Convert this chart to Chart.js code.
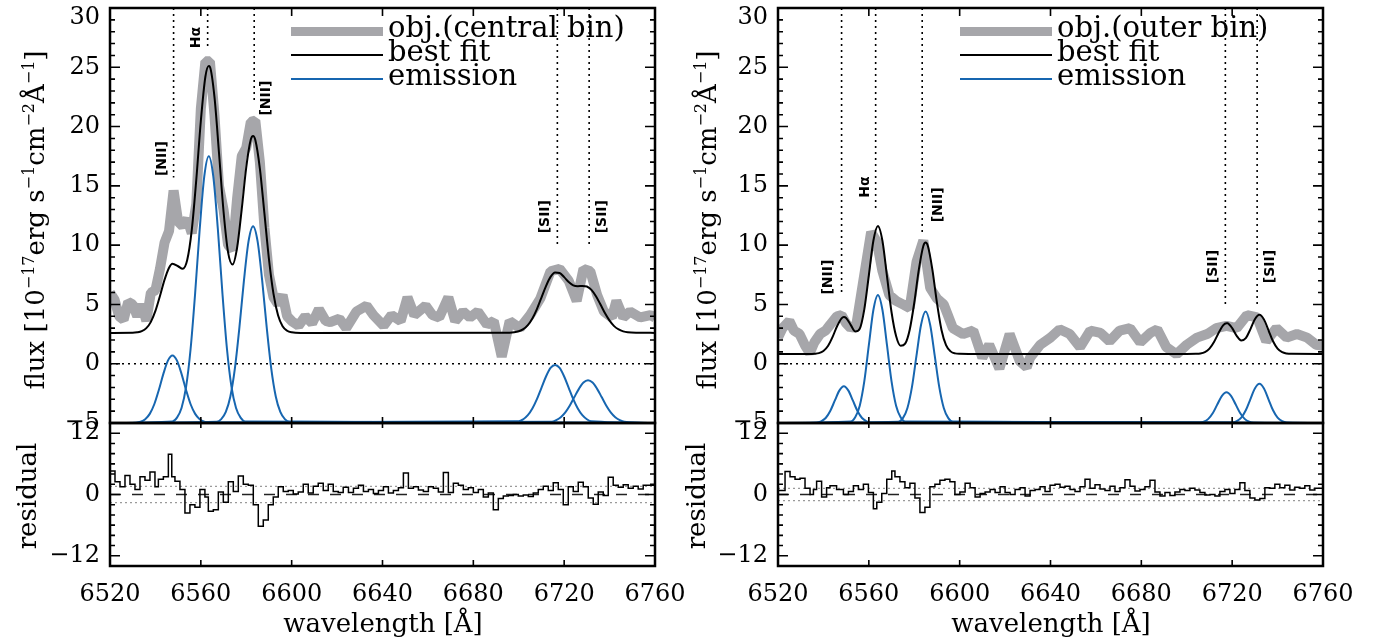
<!DOCTYPE html>
<html>
<head>
<meta charset="utf-8">
<title>Emission line fits</title>
<script src="https://cdn.jsdelivr.net/npm/chart.js@4.4.1/dist/chart.umd.min.js"></script>
<style>
  html, body { margin: 0; padding: 0; background: #fff; }
  body { width: 1382px; height: 644px; position: relative; overflow: hidden; font-family: "DejaVu Serif", serif; color: #000; }
  canvas { position: absolute; }
  .ytitle { position: absolute; white-space: nowrap; font-size: 26px; line-height: 26px; transform: translate(-50%, -50%) rotate(-90deg); }
  .ytitle sup { font-size: 16px; line-height: 0; vertical-align: 0.6em; }
  .xtitle { position: absolute; white-space: nowrap; font-size: 26px; line-height: 26px; transform: translateX(-50%); }
  .key { position: absolute; white-space: nowrap; font-size: 29px; line-height: 29px; }
  .swatch { position: absolute; }
</style>
</head>
<body>
<canvas id="specL" width="690" height="440" style="left:0;top:0"></canvas>
<canvas id="resL" width="690" height="234" style="left:0;top:410px"></canvas>
<canvas id="specR" width="690" height="440" style="left:668px;top:0"></canvas>
<canvas id="resR" width="690" height="234" style="left:668px;top:410px"></canvas>

<div class="ytitle" style="left:35px;top:220px">flux [10<sup>&minus;17</sup>erg s<sup>&minus;1</sup>cm<sup>&minus;2</sup>&Aring;<sup>&minus;1</sup>]</div>
<div class="ytitle" style="left:27px;top:496px">residual</div>
<div class="ytitle" style="left:707px;top:220px">flux [10<sup>&minus;17</sup>erg s<sup>&minus;1</sup>cm<sup>&minus;2</sup>&Aring;<sup>&minus;1</sup>]</div>
<div class="ytitle" style="left:696px;top:496px">residual</div>
<div class="xtitle" style="left:383px;top:610px">wavelength [&Aring;]</div>
<div class="xtitle" style="left:1051px;top:610px">wavelength [&Aring;]</div>

<div id="keyL"></div>
<div id="keyR"></div>

<script>
// ---- axes ----
const waveMin = 6520, waveMax = 6760;
const waveTicks = [6520, 6560, 6600, 6640, 6680, 6720, 6760];
const fluxMin = -5, fluxMax = 30;
const fluxTicks = [-5, 0, 5, 10, 15, 20, 25, 30];
const residMin = -14, residMax = 14;
const residTicks = [-12, 0, 12];

// ---- emission lines marked on both panels ----
const lineNames = ['[NII]', 'H\u03b1', '[NII]', '[SII]', '[SII]'];
const lineWaves = [6548, 6563, 6583.5, 6717, 6731];

// ---- central bin ----
const obsWaveL = [6520, 6522, 6524, 6526, 6528, 6530, 6532, 6534, 6536, 6538, 6540, 6542, 6544, 6546, 6548, 6550, 6552, 6554, 6556, 6558,
  6560, 6562, 6564, 6566, 6568, 6570, 6572, 6574, 6576, 6578, 6580, 6582, 6584, 6586, 6588, 6590, 6592, 6594, 6596, 6598,
  6600, 6603, 6606, 6609, 6612, 6615, 6617, 6621, 6624, 6628.5, 6633, 6636, 6640.5, 6644, 6648, 6651, 6654, 6659, 6662, 6665,
  6669, 6672, 6675.5, 6678.5, 6682, 6686, 6689, 6692.5, 6696, 6700.5, 6705, 6709.5, 6714, 6718, 6722, 6725.5, 6728.5, 6731.5, 6734.5, 6737.5,
  6741, 6743, 6746, 6749, 6753.5, 6758, 6760];
const obsFluxL = [6.0, 5.4, 4.0, 3.7, 5.2, 5.0, 4.0, 5.0, 3.6, 6.0, 6.2, 8.0, 10.2, 11.2, 14.6, 12.0, 11.6, 12.2, 11.0, 13.5,
  21.5, 25.5, 25.5, 21.0, 15.0, 13.0, 10.0, 9.6, 14.0, 17.5, 18.2, 20.4, 20.5, 17.0, 11.5, 7.5, 5.6, 5.0, 5.8, 4.0,
  3.6, 3.2, 4.0, 3.4, 4.6, 3.6, 3.5, 3.8, 3.0, 4.4, 4.9, 4.1, 3.2, 4.1, 3.6, 5.6, 4.1, 4.9, 4.1, 3.9,
  5.6, 3.6, 4.4, 3.9, 4.4, 3.3, 3.6, 0.6, 3.6, 3.0, 4.1, 5.5, 7.8, 8.0, 7.0, 5.3, 8.0, 7.8, 5.8, 4.4,
  3.9, 5.3, 3.9, 4.4, 3.9, 4.1, 3.9];

const fitWaveL = [6520, 6530, 6532, 6534, 6536, 6538, 6540, 6542, 6544, 6546, 6547.5, 6550, 6552, 6554, 6556, 6558, 6560, 6562, 6563.5, 6564,
  6566, 6568, 6570, 6572, 6574, 6576, 6578, 6580, 6582, 6583, 6584, 6586, 6588, 6590, 6592, 6594, 6596, 6598, 6600, 6604,
  6696, 6698, 6700, 6702, 6704, 6706, 6708, 6710, 6712, 6714, 6716, 6718, 6720, 6722, 6724, 6726, 6728, 6730, 6732, 6734,
  6736, 6738, 6740, 6742, 6744, 6746, 6748, 6752, 6760];
const fitFluxL = [2.6, 2.61, 2.65, 2.75, 3.0, 3.53, 4.45, 5.71, 7.07, 8.1, 8.44, 8.22, 8.0, 8.74, 11.26, 15.52, 20.47, 24.2, 25.1, 25.03,
  22.5, 17.78, 12.84, 9.39, 8.37, 9.82, 13.02, 16.56, 18.9, 19.2, 18.87, 16.46, 12.68, 8.83, 5.89, 4.08, 3.16, 2.78, 2.65, 2.6,
  2.62, 2.65, 2.74, 2.92, 3.26, 3.82, 4.61, 5.58, 6.55, 7.32, 7.69, 7.65, 7.3, 6.89, 6.61, 6.54, 6.56, 6.51, 6.23, 5.69,
  4.99, 4.25, 3.63, 3.17, 2.89, 2.73, 2.65, 2.61, 2.6];

// single-line components, sitting on the -5 level, sampled around each centre
const emBase = -5;
const emOffsetL = [-16, -14, -12, -10, -8, -6, -4, -2, 0, 2, 4, 6, 8, 10, 12, 14, 16];
const emCentreL = [6547.5, 6563.5, 6583, 6716, 6730.5];
const emFluxL = [
  [-4.97, -4.89, -4.68, -4.23, -3.42, -2.22, -0.86, 0.26, 0.7, 0.26, -0.86, -2.22, -3.42, -4.23, -4.68, -4.89, -4.97],
  [-4.87, -4.55, -3.74, -1.96, 1.26, 5.96, 11.34, 15.77, 17.5, 15.77, 11.34, 5.96, 1.26, -1.96, -3.74, -4.55, -4.87],
  [-4.9, -4.67, -4.07, -2.76, -0.39, 3.08, 7.05, 10.32, 11.6, 10.32, 7.05, 3.08, -0.39, -2.76, -4.07, -4.67, -4.9],
  [-4.86, -4.68, -4.34, -3.78, -2.99, -2.03, -1.08, -0.36, -0.1, -0.36, -1.08, -2.03, -2.99, -3.78, -4.34, -4.68, -4.86],
  [-4.9, -4.76, -4.51, -4.1, -3.52, -2.81, -2.12, -1.59, -1.4, -1.59, -2.12, -2.81, -3.52, -4.1, -4.51, -4.76, -4.9]
];

const resWaveL = [6520, 6522.2, 6524.4, 6526.6, 6528.8, 6531, 6533.2, 6535.4, 6537.6, 6539.8, 6541.3, 6543.5, 6545.7, 6547.2, 6548.6, 6550.8,
  6553, 6555.2, 6557.4, 6559.6, 6561.8, 6563.3, 6565.5, 6567.7, 6569.9, 6572.1, 6574.3, 6576.5, 6578.7, 6580.9, 6583.1, 6585.3,
  6587.5, 6589.7, 6591.9, 6594.1, 6596.3, 6598.5, 6600.7, 6602.9, 6605.1, 6607.3, 6609.5, 6611.7, 6613.9, 6616.1, 6618.3, 6620.5,
  6622.7, 6625, 6627.2, 6629.4, 6631.6, 6633.8, 6636, 6638.2, 6640.4, 6642.6, 6644.8, 6647, 6649.2, 6651.4, 6653.6, 6655.8,
  6658, 6660.2, 6662.4, 6664.6, 6666.8, 6669, 6671.2, 6673.4, 6675.6, 6677.8, 6680, 6682.2, 6684.4, 6686.6, 6688.8, 6691,
  6693.2, 6695.4, 6697.6, 6699.8, 6702, 6704.2, 6706.4, 6708.6, 6710.8, 6713, 6715.2, 6717.4, 6719.6, 6721.8, 6724, 6726.2,
  6728.4, 6730.6, 6732.8, 6735, 6737.2, 6739.4, 6741.6, 6743.8, 6746, 6748.2, 6750.4, 6752.6, 6754.8, 6757, 6760];
const resValL = [4.3, 4.6, 2.5, 1.5, 3.7, 2.0, 1.0, 3.5, 2.8, 4.4, 1.5, 3.0, 3.5, 7.9, 3.5, 2.6,
  1.0, -3.6, -2.0, -2.5, 1.0, -0.5, -3.3, -3.0, 0.5, -1.5, 2.5, 0.6, 3.6, 2.0, 1.8, -2.0,
  -6.2, -5.0, -2.0, -0.5, 1.5, 0.6, 0.8, 0.1, 0.5, 2.0, 0.3, 1.6, 2.2, 0.8, 2.0, 0.6,
  0.4, 1.4, 0.4, 1.2, 1.8, 0.6, 1.0, 0.2, 0.8, 1.5, 0.3, 0.8, 1.3, 4.2, 1.2, 1.5,
  0.9, 0.6, 1.5, 1.2, 0.5, 4.3, 0.4, 2.2, 1.8, 1.0, 1.3, 0.4, 1.0, -0.5, 0.3, -3.0,
  -0.8, -0.3, -0.2, 0.0, -0.3, -0.1, -0.4, 0.3, 1.0, 1.6, 0.8, 2.3, 1.0, -2.0, 1.5, 0.6,
  2.4, 1.5, -0.7, -1.9, 0.5, -0.2, 3.4, 1.8, 1.4, 1.9, 1.2, 1.6, 1.1, 1.8, 1.8];
const rmsL = 1.6;

// ---- outer bin ----
const obsWaveR = [6520, 6522, 6525, 6527, 6529.5, 6532, 6534, 6536, 6538.5, 6541, 6543, 6546, 6548, 6550, 6552, 6554.5, 6557.5, 6561, 6563.5, 6566,
  6569, 6572, 6575, 6578, 6581, 6584, 6587, 6590, 6593, 6597, 6601.5, 6606, 6610, 6613, 6617.5, 6622, 6626.5, 6629.5, 6631, 6635.5,
  6640, 6644, 6648.5, 6653, 6657.5, 6662, 6666, 6670.5, 6675, 6679.5, 6684, 6687, 6691, 6695.5, 6700, 6704.5, 6709, 6713, 6717.5, 6722,
  6726.5, 6731, 6735, 6739.5, 6744, 6748.5, 6753, 6757, 6760];
const obsFluxR = [2.2, 3.0, 3.6, 2.8, 2.5, 1.5, 0.9, 1.8, 2.5, 2.8, 3.3, 4.0, 4.1, 3.4, 3.0, 3.3, 6.9, 11.1, 10.3, 7.8,
  5.8, 5.3, 5.0, 4.7, 8.6, 10.4, 6.4, 5.5, 5.0, 3.0, 2.5, 2.8, 0.5, 1.6, -0.4, 2.5, 0.2, -0.3, 0.5, 1.6,
  2.2, 2.9, 2.5, 1.4, 2.8, 2.6, 1.9, 2.8, 3.0, 1.8, 2.6, 2.9, 1.4, 0.8, 1.6, 2.2, 2.5, 3.0, 3.2, 3.0,
  4.1, 3.9, 1.9, 3.0, 2.2, 2.5, 2.2, 1.6, 1.5];

const fitWaveR = [6520, 6530, 6534, 6536, 6538, 6540, 6542, 6544, 6546, 6548, 6549, 6550, 6552, 6554, 6556, 6558, 6560, 6562, 6564, 6566,
  6568, 6570, 6572, 6574, 6576, 6578, 6580, 6582, 6584, 6585, 6586, 6588, 6590, 6592, 6594, 6596, 6598, 6600, 6604, 6700,
  6704, 6706, 6708, 6710, 6712, 6714, 6716, 6717.5, 6718, 6720, 6722, 6724, 6726, 6728, 6730, 6732, 6734, 6736, 6738, 6740,
  6742, 6744, 6746, 6760];
const fitFluxR = [0.82, 0.82, 0.82, 0.84, 0.89, 1.07, 1.49, 2.24, 3.16, 3.83, 3.93, 3.85, 3.28, 2.72, 2.95, 4.58, 7.44, 10.37, 11.62, 10.35,
  7.37, 4.34, 2.33, 1.51, 1.69, 2.87, 5.13, 7.92, 9.93, 10.22, 9.93, 7.92, 5.13, 2.85, 1.57, 1.04, 0.87, 0.83, 0.82, 0.82,
  0.83, 0.86, 0.98, 1.27, 1.83, 2.59, 3.24, 3.42, 3.41, 3.0, 2.35, 1.96, 2.16, 2.9, 3.75, 4.12, 3.73, 2.82, 1.89, 1.27,
  0.97, 0.86, 0.83, 0.82];

const emOffsetR = [-12, -10, -8, -6, -4, -2, 0, 2, 4, 6, 8, 10, 12];
const emCentreR = [6549, 6564, 6585, 6717.5, 6732];
const emFluxR = [
  [-4.97, -4.86, -4.58, -3.99, -3.12, -2.27, -1.9, -2.27, -3.12, -3.99, -4.58, -4.86, -4.97],
  [-4.88, -4.52, -3.54, -1.49, 1.56, 4.53, 5.8, 4.53, 1.56, -1.49, -3.54, -4.52, -4.88],
  [-4.9, -4.59, -3.73, -1.95, 0.71, 3.29, 4.4, 3.29, 0.71, -1.95, -3.73, -4.59, -4.9],
  [-4.97, -4.89, -4.65, -4.16, -3.42, -2.71, -2.4, -2.71, -3.42, -4.16, -4.65, -4.89, -4.97],
  [-4.96, -4.85, -4.55, -3.93, -3.0, -2.09, -1.7, -2.09, -3.0, -3.93, -4.55, -4.85, -4.96]
];

const resWaveR = [6520, 6523.1, 6525.3, 6527.5, 6529.7, 6531.9, 6534.1, 6535.6, 6537, 6539.2, 6541.4, 6542.9, 6545.8, 6548.8, 6551, 6553.2,
  6555.4, 6557.6, 6559.8, 6562, 6563.5, 6565.7, 6567.9, 6570.1, 6571.5, 6573.7, 6575.9, 6578.1, 6580.3, 6582.5, 6584.7, 6586.9,
  6589.1, 6591.3, 6593.5, 6595.7, 6597.9, 6600.1, 6602.4, 6604.6, 6606.8, 6609, 6611.2, 6613.4, 6615.6, 6617.8, 6620, 6622.2,
  6624.4, 6626.6, 6628.8, 6631, 6633.2, 6635.4, 6637.6, 6639.8, 6642, 6644.2, 6646.4, 6648.6, 6650.8, 6653, 6655.2, 6657.4,
  6659.6, 6661.8, 6664, 6666.2, 6668.4, 6670.6, 6672.8, 6675, 6677.2, 6679.4, 6681.6, 6683.8, 6686, 6688.2, 6690.4, 6692.6,
  6694.8, 6697, 6699.2, 6701.4, 6703.6, 6705.8, 6708, 6710.2, 6712.4, 6714.6, 6716.8, 6719, 6721.2, 6723.4, 6725.6, 6727.8,
  6730, 6732.2, 6734.4, 6736.6, 6738.8, 6741, 6743.2, 6745.4, 6747.6, 6749.8, 6752, 6754.2, 6756.4, 6758.6, 6760];
const resValR = [2.0, 0.8, 4.5, 3.5, 3.0, 3.2, 1.2, 0.0, 1.0, 2.6, -0.5, 1.3, 1.7, 1.0, 0.0, 0.6,
  1.7, 1.0, 2.0, 0.4, -2.8, -1.5, 0.2, 3.0, 4.6, 3.5, 2.5, 1.3, 2.2, -0.7, -3.5, -2.5,
  1.5, 2.0, 2.8, 3.0, 2.5, 0.0, 0.5, 2.2, 1.3, -0.5, 0.2, 0.5, 1.0, 0.4, 1.5, 0.4,
  0.0, 1.0, 1.3, -0.3, 0.8, 1.0, 1.5, 0.6, 1.8, 2.0, 1.4, 1.6, 1.0, 0.6, 1.5, 3.0,
  1.2, 1.9, 1.1, 0.8, 1.6, 0.6, 1.3, 2.9, 1.6, 0.7, 1.0, 1.5, 2.8, 0.5, -0.3, 0.4,
  -0.2, 0.5, 1.0, 0.8, 1.2, 0.9, 0.4, -0.1, 0.0, -0.3, 0.6, 1.0, 0.2, 1.0, 2.3, 0.8,
  -0.7, -1.1, -0.8, 1.3, 1.2, 2.0, 1.3, 1.8, 0.9, 1.4, 1.2, 1.7, 0.9, 1.2, 1.2];
const rmsR = 1.2;

// where the dotted markers stop, and where their names are written (wavelength, flux)
const markEndL = [15.7, 26.7, 21.9, 9.8, 9.8];
const tagWaveL = [6542.9, 6557.9, 6588.7, 6711.5, 6736.6];
const tagFluxL = [17.3, 27.5, 22.4, 12.4, 12.4];
const markEndR = [5.9, 12.9, 10.8, 4.8, 4.8];
const tagWaveR = [6542.0, 6558.3, 6590.5, 6711.5, 6736.6];
const tagFluxR = [7.3, 14.9, 13.4, 8.2, 8.2];

const GRAY = '#a6a6aa';
const BLUE = '#1766b0';

Chart.defaults.font.family = '"DejaVu Serif", serif';
Chart.defaults.font.size = 24;
Chart.defaults.color = '#000';

const pts = (xs, ys) => xs.map((x, i) => ({ x, y: ys[i] }));
const minusSign = v => String(v).replace('-', '\u2212');

// IDL-style box: frame plus inward ticks on all four sides
function frameTicks(cfg) {
  return {
    id: 'frameTicks',
    beforeDraw(chart) {
      // the topmost y label sits a little inside the box
      if (!cfg.topLabelDrop) return;
      const items = chart.scales.y.getLabelItems();
      const top = items[items.length - 1];
      if (top && !top.dropped) {
        top.options.translation[1] += cfg.topLabelDrop;
        top.dropped = true;
      }
    },
    afterDatasetsDraw(chart) {
      const { ctx, chartArea: a } = chart;
      const xs = chart.scales.x, ys = chart.scales.y;
      ctx.save();
      ctx.strokeStyle = '#000';
      ctx.lineWidth = 1.6;
      ctx.beginPath();
      for (let v = cfg.min; v <= cfg.max + 1e-9; v += cfg.minorStep) {
        const py = ys.getPixelForValue(v);
        const len = cfg.major.includes(v) ? 10 : 5;
        ctx.moveTo(a.left, py); ctx.lineTo(a.left + len, py);
        ctx.moveTo(a.right, py); ctx.lineTo(a.right - len, py);
      }
      waveTicks.slice(1, -1).forEach(w => {
        const px = xs.getPixelForValue(w);
        ctx.moveTo(px, a.top); ctx.lineTo(px, a.top + cfg.topLen);
        ctx.moveTo(px, a.bottom); ctx.lineTo(px, a.bottom - cfg.bottomLen);
      });
      ctx.stroke();
      ctx.lineWidth = 2.5;
      ctx.strokeRect(a.left, a.top, a.right - a.left, a.bottom - a.top);
      ctx.restore();
    }
  };
}

// rotated names next to the dotted line markers
function lineTags(waves, fluxes) {
  return {
    id: 'lineTags',
    afterDatasetsDraw(chart) {
      const { ctx } = chart;
      const xs = chart.scales.x, ys = chart.scales.y;
      ctx.save();
      ctx.font = 'bold 14px "DejaVu Sans"';
      ctx.fillStyle = '#000';
      ctx.textAlign = 'center';
      ctx.textBaseline = 'middle';
      lineNames.forEach((name, i) => {
        ctx.save();
        ctx.translate(xs.getPixelForValue(waves[i]), ys.getPixelForValue(fluxes[i]));
        ctx.rotate(-Math.PI / 2);
        ctx.fillText(name, 0, 0);
        ctx.restore();
      });
      ctx.restore();
    }
  };
}

function spectrumSets(obsW, obsF, fitW, fitF, emOffset, emCentre, emFlux, markEnd) {
  const sets = [];
  sets.push({ data: pts(obsW, obsF), borderColor: GRAY, borderWidth: 10, borderJoinStyle: 'bevel', order: 10 });
  sets.push({ data: [{ x: waveMin, y: 0 }, { x: waveMax, y: 0 }], borderColor: '#000', borderWidth: 1.6, borderDash: [2, 4], order: 8 });
  lineWaves.forEach((w, i) => {
    sets.push({ data: [{ x: w, y: fluxMax }, { x: w, y: markEnd[i] }], borderColor: '#000', borderWidth: 1.6, borderDash: [2, 4], order: 8 });
  });
  sets.push({ data: pts(fitW, fitF), borderColor: '#000', borderWidth: 2, cubicInterpolationMode: 'monotone', order: 4 });
  emCentre.forEach((c, i) => {
    const d = [{ x: waveMin, y: emBase }]
      .concat(emOffset.map((o, k) => ({ x: c + o, y: emFlux[i][k] })))
      .concat([{ x: waveMax, y: emBase }]);
    sets.push({ data: d, borderColor: BLUE, borderWidth: 2, cubicInterpolationMode: 'monotone', order: 2 });
  });
  return sets;
}

function residualSets(rw, rv, rms) {
  const flat = y => [{ x: waveMin, y }, { x: waveMax, y }];
  return [
    { data: flat(rms), borderColor: '#9a9a9a', borderWidth: 1.2, borderDash: [2, 3], order: 6 },
    { data: flat(-rms), borderColor: '#9a9a9a', borderWidth: 1.2, borderDash: [2, 3], order: 6 },
    { data: flat(0), borderColor: '#222', borderWidth: 1.5, borderDash: [11, 11], order: 5 },
    { data: pts(rw, rv), borderColor: '#000', borderWidth: 1.5, stepped: 'after', order: 2 }
  ];
}

function baseOptions(padding) {
  return {
    responsive: false,
    animation: false,
    events: [],
    layout: { padding },
    elements: { point: { radius: 0 }, line: { tension: 0 } },
    plugins: { legend: { display: false }, tooltip: { enabled: false } }
  };
}

function spectrumChart(id, sets, tagW, tagF) {
  const options = baseOptions({ left: 0, right: 35, top: 8, bottom: 17 });
  options.scales = {
    x: { type: 'linear', min: waveMin, max: waveMax, display: false },
    y: {
      min: fluxMin, max: fluxMax,
      grid: { display: false, drawTicks: false },
      border: { display: false },
      ticks: { padding: 10, callback: minusSign },
      afterBuildTicks: s => { s.ticks = fluxTicks.map(v => ({ value: v })); },
      afterFit: s => { s.width = 110; s.paddingTop = 0; s.paddingBottom = 0; }
    }
  };
  return new Chart(document.getElementById(id), {
    type: 'line',
    data: { datasets: sets },
    options,
    plugins: [
      frameTicks({ min: fluxMin, max: fluxMax, minorStep: 1, major: fluxTicks, topLen: 8, bottomLen: 6, topLabelDrop: 10 }),
      lineTags(tagW, tagF)
    ]
  });
}

function residualChart(id, sets) {
  const options = baseOptions({ left: 0, right: 35, top: 13, bottom: 0 });
  options.scales = {
    x: {
      type: 'linear', min: waveMin, max: waveMax, position: 'bottom',
      grid: { display: false, drawTicks: false },
      border: { display: false },
      ticks: { padding: 14, autoSkip: false, maxRotation: 0, callback: v => String(v) },
      afterBuildTicks: s => { s.ticks = waveTicks.map(v => ({ value: v })); },
      afterFit: s => { s.height = 78; s.paddingLeft = 0; s.paddingRight = 0; }
    },
    y: {
      min: residMin, max: residMax,
      grid: { display: false, drawTicks: false },
      border: { display: false },
      ticks: { padding: 10, callback: minusSign },
      afterBuildTicks: s => { s.ticks = residTicks.map(v => ({ value: v })); },
      afterFit: s => { s.width = 110; s.paddingTop = 0; s.paddingBottom = 0; }
    }
  };
  return new Chart(document.getElementById(id), {
    type: 'line',
    data: { datasets: sets },
    options,
    plugins: [frameTicks({ min: residMin, max: residMax, minorStep: 2, major: residTicks, topLen: 5, bottomLen: 6 })]
  });
}

spectrumChart('specL', spectrumSets(obsWaveL, obsFluxL, fitWaveL, fitFluxL, emOffsetL, emCentreL, emFluxL, markEndL), tagWaveL, tagFluxL);
residualChart('resL', residualSets(resWaveL, resValL, rmsL));
spectrumChart('specR', spectrumSets(obsWaveR, obsFluxR, fitWaveR, fitFluxR, emOffsetR, emCentreR, emFluxR, markEndR), tagWaveR, tagFluxR);
residualChart('resR', residualSets(resWaveR, resValR, rmsR));

// legend: line samples with text, stacked tightly
function buildKey(el, left, labels) {
  const rows = [
    { color: GRAY, thick: 9, y: 31 },
    { color: '#000', thick: 2, y: 55 },
    { color: BLUE, thick: 2, y: 79 }
  ];
  rows.forEach((r, i) => {
    const sw = document.createElement('div');
    sw.className = 'swatch';
    sw.style.cssText = `left:${left}px;top:${r.y - r.thick / 2}px;width:92px;height:${r.thick}px;background:${r.color}`;
    el.appendChild(sw);
    const tx = document.createElement('div');
    tx.className = 'key';
    tx.style.cssText = `left:${left + 97}px;top:${r.y - 18}px`;
    tx.textContent = labels[i];
    el.appendChild(tx);
  });
}
buildKey(document.getElementById('keyL'), 291, ['obj.(central bin)', 'best fit', 'emission']);
buildKey(document.getElementById('keyR'), 960, ['obj.(outer bin)', 'best fit', 'emission']);
</script>
</body>
</html>
